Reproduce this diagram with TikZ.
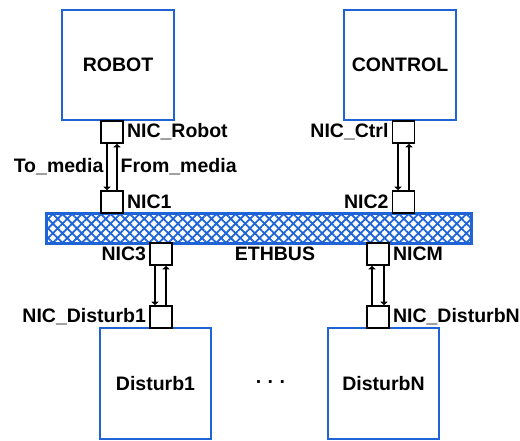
\documentclass[tikz,border=0pt]{standalone}
\usepackage{fontspec}
\setmainfont{Liberation Sans}
\usetikzlibrary{arrows.meta,positioning,patterns.meta}
\definecolor{boxblue}{RGB}{30,100,215}

\begin{document}
\begin{tikzpicture}[
  x=1pt, y=-1pt,
  font=\fontsize{19.5}{22}\selectfont\bfseries,
  unit/.style={draw=boxblue, line width=2pt, fill=white, minimum width=112pt,
    minimum height=110pt, inner sep=0pt},
  nic/.style={draw, line width=1.6pt, fill=white, minimum size=22pt, inner sep=0pt},
  lbl/.style={inner sep=1pt},
  bus/.style={draw=boxblue, line width=3pt, minimum width=425pt, minimum height=30pt,
    inner sep=0pt, preaction={fill=white},
    pattern color=boxblue, pattern={Lines[angle=45,distance=6.8pt,line width=1.8pt]},
    postaction={pattern color=boxblue, pattern={Lines[angle=-45,distance=6.8pt,line width=1.8pt]}}},
  arrow/.style={-{Triangle[width=7pt,length=3.5pt]}, line width=1.3pt},
]
  \useasboundingbox (0,0) rectangle (520,440);

  % Stations
  \node[unit] (robot) at (118,65) {ROBOT};
  \node[unit] (control) at (400,65) {CONTROL};
  \node[unit, minimum width=111pt, minimum height=111pt] (disturb1) at (155.5,383.5) {Disturb1};
  \node[unit, minimum width=111pt, minimum height=111pt] (disturbn) at (383.5,383.5) {DisturbN};
  \node (dots) at (271,385) {· · ·};

  % Bus
  \node[bus] (ethbus) at (258.5,228) {};
  \node[lbl] (buslabel) at (275,254) {ETHBUS};

  % Network interfaces
  \node[nic] (nicrobot) at (112,132) {};
  \node[nic] (nic1) at (112,202) {};
  \node[nic] (nicctrl) at (403.5,132) {};
  \node[nic] (nic2) at (403.5,202) {};
  \node[nic] (nic3) at (161,254) {};
  \node[nic] (nicdisturb1) at (161,317) {};
  \node[nic] (nicm) at (378,254) {};
  \node[nic] (nicdisturbn) at (378,317) {};

  \node[lbl, right=2pt of nicrobot] {NIC\_Robot};
  \node[lbl, right=2pt of nic1] {NIC1};
  \node[lbl, left=2pt of nicctrl] {NIC\_Ctrl};
  \node[lbl, left=2pt of nic2] {NIC2};
  \node[lbl, left=2pt of nic3] {NIC3};
  \node[lbl, right=2pt of nicm] {NICM};
  \node[lbl, left=2pt of nicdisturb1] {NIC\_Disturb1};
  \node[lbl, right=2pt of nicdisturbn] {NIC\_DisturbN};

  % Media links
  \draw[arrow] ([xshift=-5pt]nicrobot.south) -- node[lbl, left=2pt] {To\_media} ([xshift=-5pt]nic1.north);
  \draw[arrow] ([xshift=5pt]nic1.north) -- node[lbl, right=2pt] {From\_media} ([xshift=5pt]nicrobot.south);
  \draw[arrow] ([xshift=-5.5pt]nicctrl.south) -- ([xshift=-5.5pt]nic2.north);
  \draw[arrow] ([xshift=5.5pt]nic2.north) -- ([xshift=5.5pt]nicctrl.south);
  \draw[arrow] ([xshift=-6pt]nic3.south) -- ([xshift=-6pt]nicdisturb1.north);
  \draw[arrow] ([xshift=5pt]nicdisturb1.north) -- ([xshift=5pt]nic3.south);
  \draw[arrow] ([xshift=-6pt]nicdisturbn.north) -- ([xshift=-6pt]nicm.south);
  \draw[arrow] ([xshift=6pt]nicm.south) -- ([xshift=6pt]nicdisturbn.north);
\end{tikzpicture}
\end{document}
